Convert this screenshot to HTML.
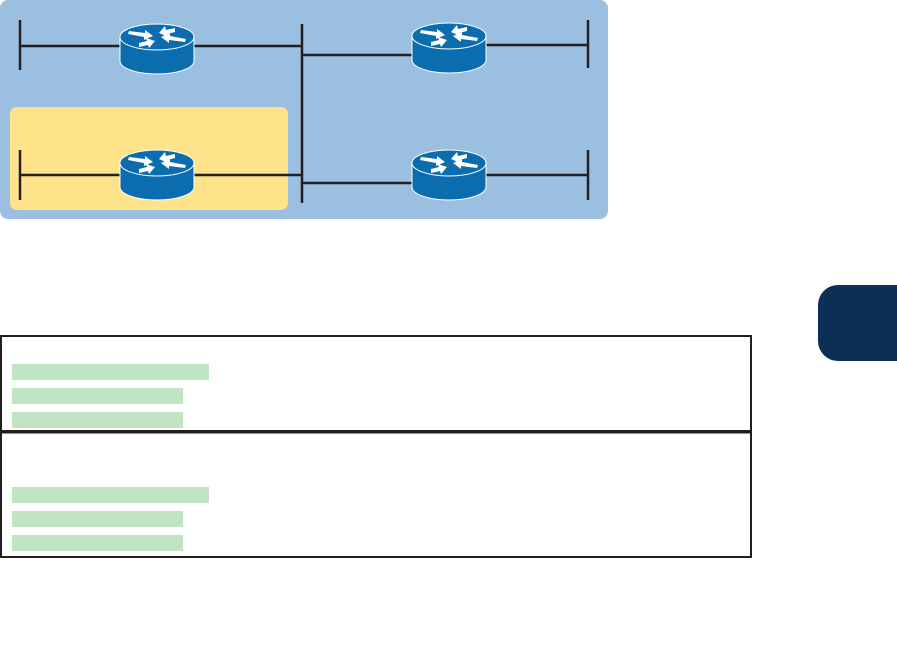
<!DOCTYPE html>
<html><head><meta charset="utf-8"><style>body{margin:0;background:#fff;width:897px;height:660px;overflow:hidden}</style></head><body>
<svg width="897" height="660" viewBox="0 0 897 660" xmlns="http://www.w3.org/2000/svg">
<defs>
<g id="r">
<path d="M-37,13 L-37,37 A37,13 0 0 0 37,37 L37,13 Z" fill="#0c6dae" stroke="#fff" stroke-width="1"/>
<ellipse cx="0" cy="13" rx="37" ry="13" fill="#0c6dae" stroke="#fff" stroke-width="1"/>
<g fill="#fff">
<polygon points="-28,7 -12,9 -12,6 -4,12 -13,16 -13,13 -29,10"/>
<polygon points="2,9 8,2 9,6 18,4 18,8 10,10 11,13"/>
<polygon points="28,18 12,16 12,19 4,13 13,9 13,12 29,15"/>
<polygon points="-2,17 -8,24 -9,21 -18,23 -18,19 -10,17 -11,14"/>
</g>
</g>
</defs>
<rect x="0" y="0" width="608" height="219" rx="8" fill="#9bbfe0"/>
<rect x="10" y="107" width="278" height="103" rx="7" fill="#fee38a"/>
<g stroke="#231f20" stroke-width="2.5" fill="none">
<line x1="20" y1="20" x2="20" y2="70"/>
<line x1="20" y1="46" x2="302" y2="46"/>
<line x1="20" y1="150" x2="20" y2="200"/>
<line x1="20" y1="175" x2="302" y2="175"/>
<line x1="302" y1="24" x2="302" y2="203"/>
<line x1="302" y1="55" x2="420" y2="55"/>
<line x1="480" y1="45" x2="588" y2="45"/>
<line x1="588" y1="20" x2="588" y2="68"/>
<line x1="302" y1="183" x2="420" y2="183"/>
<line x1="480" y1="175" x2="588" y2="175"/>
<line x1="588" y1="150" x2="588" y2="200"/>
</g>
<use href="#r" x="157" y="24"/>
<use href="#r" x="449" y="23"/>
<use href="#r" x="157" y="150"/>
<use href="#r" x="449" y="150"/>
<path d="M838,285 H897 V361 H838 A20,20 0 0 1 818,341 V305 A20,20 0 0 1 838,285 Z" fill="#0b2f55"/>
<rect x="1" y="336" width="750" height="221" fill="none" stroke="#231f20" stroke-width="2"/>
<rect x="0" y="430" width="752" height="3.5" fill="#231f20"/>
<g fill="#c1e4c3">
<rect x="12" y="364" width="197" height="16"/>
<rect x="12" y="388" width="171" height="16"/>
<rect x="12" y="412" width="171" height="16"/>
<rect x="12" y="487" width="197" height="16"/>
<rect x="12" y="511" width="171" height="16"/>
<rect x="12" y="535" width="171" height="16"/>
</g>
</svg>
</body></html>
